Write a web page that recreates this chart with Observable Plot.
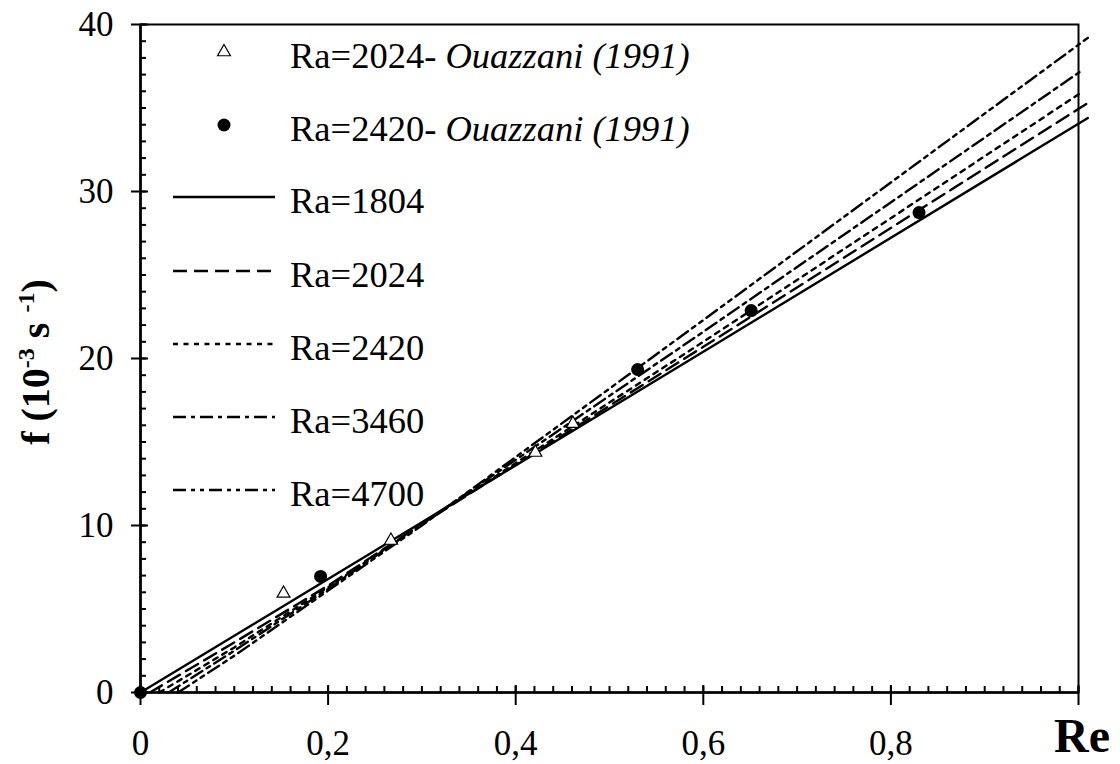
<!DOCTYPE html>
<html><head><meta charset="utf-8">
<script src="https://cdn.jsdelivr.net/npm/d3@7"></script>
<script src="https://cdn.jsdelivr.net/npm/@observablehq/plot@0.6"></script>
<style>body{margin:0;background:#fff}#wrap{width:1120px;height:764px}
svg text, svg tspan{font-family: "Liberation Serif", "Times New Roman", serif !important;}</style>
</head><body><div id="wrap"></div>
<script>
// ---- data ----
const re1804 = [0, 0.3, 0.6, 1.01];
const f1804  = [0, 10.2, 20.4, 34.4];
const re2024 = [0.01, 0.1, 0.2, 0.3, 0.6, 1.01];
const f2024  = [0, 3.0, 6.4, 10.1, 20.7, 35.3];
const re2420 = [0.02, 0.1, 0.2, 0.3, 0.6, 1.005];
const f2420  = [0, 2.7, 6.3, 10.1, 21.0, 36.0];
const re3460 = [0.03, 0.1, 0.2, 0.3, 0.6, 1.005];
const f3460  = [0, 2.5, 6.2, 10.1, 21.6, 37.3];
const re4700 = [0.04, 0.1, 0.2, 0.3, 0.6, 1.01];
const f4700  = [0, 2.2, 6.1, 10.0, 22.3, 39.2];
// Ouazzani (1991)
const reOuaz2024 = [0.1525, 0.267, 0.421, 0.461];
const fOuaz2024  = [5.93, 9.10, 14.37, 16.1];
const reOuaz2420 = [0, 0.192, 0.530, 0.651, 0.830];
const fOuaz2420  = [0, 6.95, 19.34, 22.87, 28.74];

const seriesLabels = ["Ra=1804", "Ra=2024", "Ra=2420", "Ra=3460", "Ra=4700"];
const markerLabels = ["Ra=2024", "Ra=2420"];
const markerSource = "Ouazzani (1991)";
const xTickValues = [0, 0.2, 0.4, 0.6, 0.8];
const xTickLabels = ["0", "0,2", "0,4", "0,6", "0,8"];
const yTickValues = [0, 10, 20, 30, 40];
const yTickLabels = ["0", "10", "20", "30", "40"];
const xLabel = "Re";

// ---- styles ----
const serif = "Liberation Serif, Times New Roman, serif";
const dashes = [null, "14,7", "5,5.5", "13,5,4,5", "13,5,4,5,4,5"];
const lineW = 2.4;

const toRows = (xs, ys) => xs.map((x, i) => ({re: x, f: ys[i]}));
const lineSets = [
  toRows(re1804, f1804), toRows(re2024, f2024), toRows(re2420, f2420),
  toRows(re3460, f3460), toRows(re4700, f4700)
];
const ouaz2024 = toRows(reOuaz2024, fOuaz2024);
const ouaz2420 = toRows(reOuaz2420, fOuaz2420);

const xMajorAll = d3.range(0, 6).map(i => i * 0.2);
const xMinorAll = d3.range(0, 51).map(i => i * 0.02);
const yMinorAll = d3.range(0, 41);

const triR = 4.8;

const svg = Plot.plot({
  width: 1120, height: 764,
  marginLeft: 140, marginRight: 42, marginTop: 24, marginBottom: 72,
  x: {domain: [0, 1]},
  y: {domain: [0, 40]},
  style: {fontFamily: serif, fontSize: "35px", color: "black", background: "white", overflow: "visible"},
  marks: [
    Plot.frame({stroke: "black", strokeWidth: 2}),
    Plot.ruleX([0], {stroke: "black", strokeWidth: 2.6}),
    Plot.ruleY([0], {stroke: "black", strokeWidth: 2.6}),
    // x ticks
    Plot.axisX(xMinorAll, {tickSize: -6, fill: "none", stroke: "black", strokeWidth: 2, label: null}),
    Plot.axisX(xMajorAll, {tickSize: -7, fill: "none", stroke: "black", strokeWidth: 2, label: null}),
    Plot.axisX(xMajorAll, {tickSize: 13, fill: "none", stroke: "black", strokeWidth: 2, label: null}),
    Plot.axisX(xTickValues, {tickSize: 0, tickPadding: 38, tickFormat: d => xTickLabels[xTickValues.indexOf(d)], fontSize: 35, fontFamily: serif, fill: "black", label: null}),
    // y ticks
    Plot.axisY(yMinorAll, {tickSize: -6, fill: "none", stroke: "black", strokeWidth: 2, label: null}),
    Plot.axisY(yTickValues, {tickSize: -8, fill: "none", stroke: "black", strokeWidth: 2, label: null}),
    Plot.axisY(yTickValues, {tickSize: 9, fill: "none", stroke: "black", strokeWidth: 2, label: null}),
    Plot.axisY(yTickValues, {tickSize: 0, tickPadding: 27, tickFormat: d => yTickLabels[yTickValues.indexOf(d)], fontSize: 35, fontFamily: serif, fill: "black", label: null}),
    // series lines
    ...lineSets.map((rows, i) => Plot.line(rows, {x: "re", y: "f", stroke: "black", strokeWidth: lineW, strokeDasharray: dashes[i] || undefined})),
    // Ouazzani points
    Plot.dot(ouaz2024, {x: "re", y: "f", symbol: "triangle", r: triR, fill: "white", stroke: "black", strokeWidth: 1.2}),
    Plot.dot(ouaz2420, {x: "re", y: "f", r: 6.5, fill: "black", stroke: "none"})
  ]
});

document.getElementById("wrap").appendChild(svg);

// ---- legend, axis titles ----
const g = d3.select(svg).append("g")
  .attr("font-family", serif).attr("fill", "black").attr("text-anchor", "start");
const sym = d3.symbol(d3.symbolTriangle, Math.PI * triR * triR)();
const markerYs = [52, 125];
const lineYs = [197, 271, 344, 417, 490];
const legX0 = 173, legX1 = 275, legTextX = 290, markX = 224;
const legFont = 36.5;

markerLabels.forEach((lab, i) => {
  const y = markerYs[i];
  if (i === 0) {
    g.append("path").attr("d", sym).attr("transform", `translate(${markX},${y})`)
      .attr("fill", "white").attr("stroke", "black").attr("stroke-width", 1.2);
  } else {
    g.append("circle").attr("cx", markX).attr("cy", y).attr("r", 6.5).attr("fill", "black");
  }
  const t = g.append("text").attr("x", legTextX).attr("y", y + 16)
    .attr("font-size", legFont).attr("text-anchor", "start").attr("font-family", serif);
  t.append("tspan").text(lab + "- ");
  t.append("tspan").attr("font-style", "italic").text(markerSource);
});

seriesLabels.forEach((lab, i) => {
  const y = lineYs[i];
  g.append("line").attr("x1", legX0).attr("x2", legX1).attr("y1", y).attr("y2", y)
    .attr("stroke", "black").attr("stroke-width", lineW)
    .attr("stroke-dasharray", dashes[i]);
  g.append("text").attr("x", legTextX).attr("y", y + 16).attr("font-size", legFont)
    .attr("text-anchor", "start").attr("font-family", serif).text(lab);
});

// x label
g.append("text").attr("x", 1082).attr("y", 752).attr("text-anchor", "middle")
  .attr("font-size", 48).attr("font-weight", "bold").attr("font-family", serif).text(xLabel);

// y label
const yl = g.append("text").attr("transform", "translate(49,362) rotate(-90)")
  .attr("text-anchor", "middle").attr("font-size", 40).attr("font-weight", "bold").attr("font-family", serif);
yl.append("tspan").text("f (10");
yl.append("tspan").attr("font-size", 24).attr("dy", -15).text("-3");
yl.append("tspan").attr("dy", 15).text(" s ");
yl.append("tspan").attr("font-size", 24).attr("dy", -15).text("-1");
yl.append("tspan").attr("dy", 15).text(")");
</script>
</body></html>
